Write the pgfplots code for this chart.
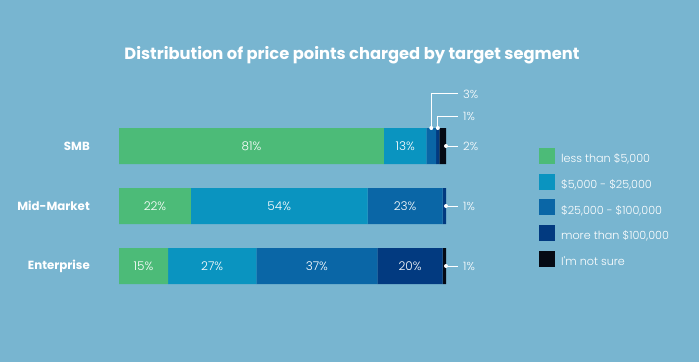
\documentclass[border=0pt]{standalone}
\usepackage{pgfplots}
\pgfplotsset{compat=1.18}
\usepackage{fontspec}
\setmainfont{Poppins}
\newfontfamily\lightfont{Poppins Light}
\definecolor{bg}{RGB}{120,181,208}
\definecolor{cA}{RGB}{76,187,120}
\definecolor{cB}{RGB}{10,148,192}
\definecolor{cC}{RGB}{10,102,166}
\definecolor{cD}{RGB}{2,58,128}
\definecolor{cE}{RGB}{5,10,20}
\pgfplotsset{base/.style={
  at={(119pt,66pt)}, anchor=south west, scale only axis,
  width=327pt, height=180pt,
  xmin=0, xmax=100, ymin=-0.5, ymax=2.5,
  clip=false,
  axis line style={draw=none}, major tick length=0pt,
  xtick=\empty}}
\begin{document}
\begin{tikzpicture}[x=1pt,y=1pt]
\fill[bg] (0,0) rectangle (699,362);
\useasboundingbox (0,0) rectangle (699,362);
\node[text=white, font=\bfseries\fontsize{16.3}{19}\selectfont] at (352,307) {Distribution of price points charged by target segment};
\begin{axis}[base,
  xbar stacked, bar width=36pt,
  ytick={0,1,2},
  yticklabels={Enterprise,Mid-Market,SMB},
  yticklabel style={anchor=east, inner sep=0pt, xshift=-29pt, text=white, font=\bfseries\fontsize{11.8}{14}\selectfont},
  legend image code/.code={\fill[#1] (0pt,-5pt) rectangle (16pt,11pt);},
  legend style={at={(1.284,0.822)}, anchor=north west, draw=none, fill=none, inner sep=0pt, row sep=7.4pt, text=white, font=\lightfont\fontsize{11.2}{13}\selectfont,
    nodes={inner xsep=6pt}},
  legend cell align=left,
]
\addplot[fill=cA, draw=none] coordinates {(15,0) (22,1) (81,2)};
\addlegendentry{less than \$5,000}
\addplot[fill=cB, draw=none] coordinates {(27,0) (54,1) (13,2)};
\addlegendentry{\$5,000 - \$25,000}
\addplot[fill=cC, draw=none] coordinates {(37,0) (23,1) (3,2)};
\addlegendentry{\$25,000 - \$100,000}
\addplot[fill=cD, draw=none] coordinates {(20,0) (1,1) (1,2)};
\addlegendentry{more than \$100,000}
\addplot[fill=cE, draw=none] coordinates {(1,0) (0,1) (2,2)};
\addlegendentry{I'm not sure}
\end{axis}
\begin{axis}[base, ytick=\empty]
% segment centres with their labels
\addplot[only marks, mark=none, nodes near coords, point meta=explicit symbolic,
  every node near coord/.append style={anchor=center, text=white, inner sep=0pt, font=\lightfont\fontsize{12}{14}\selectfont}]
  coordinates {
  (7.5,0) [15\%] (28.5,0) [27\%] (60.5,0) [37\%] (89,0) [20\%]
  (11,1) [22\%] (49,1) [54\%] (87.5,1) [23\%]
  (40.5,2) [81\%] (87.5,2) [13\%]
  };
% callouts
\begin{scope}[white, line width=1pt]
\draw (axis cs:95.5,2.3) -- (axis cs:95.5,2.867) -- (axis cs:103.7,2.867);
\draw (axis cs:97.5,2.3) -- (axis cs:97.5,2.5) -- (axis cs:103.7,2.5);
\draw (axis cs:100,2) -- (axis cs:103.7,2);
\draw (axis cs:100,1) -- (axis cs:103.7,1);
\draw (axis cs:100,0) -- (axis cs:103.7,0);
\fill (axis cs:95.5,2.3) circle (2pt);
\fill (axis cs:97.5,2.3) circle (2pt);
\fill (axis cs:100,2) circle (2pt);
\fill (axis cs:100,1) circle (2pt);
\fill (axis cs:100,0) circle (2pt);
\end{scope}
\begin{scope}[every node/.style={anchor=west, text=white, inner sep=0pt, font=\lightfont\fontsize{11.5}{14}\selectfont}]
\node at (axis cs:105.2,2.867) {3\%};
\node at (axis cs:105.2,2.5) {1\%};
\node at (axis cs:105.2,2) {2\%};
\node at (axis cs:105.2,1) {1\%};
\node at (axis cs:105.2,0) {1\%};
\end{scope}
\end{axis}
\end{tikzpicture}
\end{document}
